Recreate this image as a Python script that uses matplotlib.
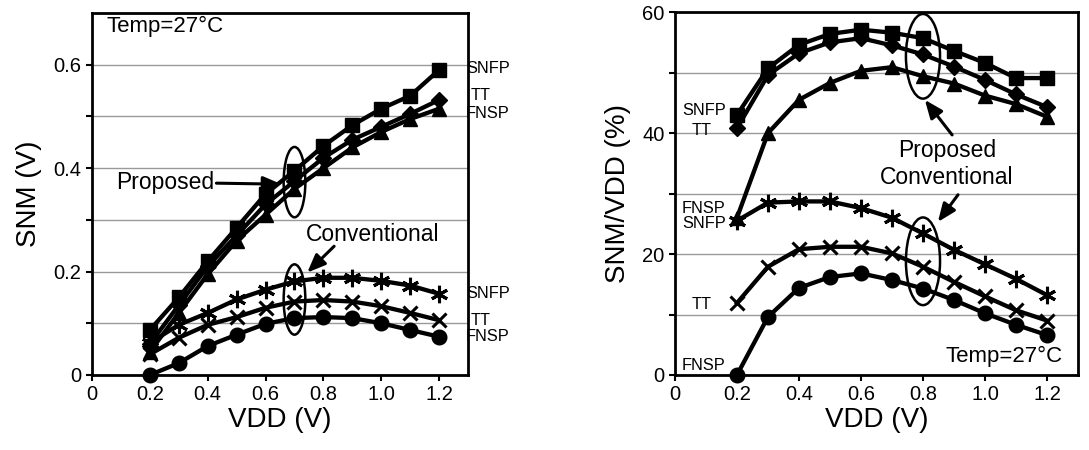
import matplotlib
matplotlib.use("Agg")
import matplotlib.pyplot as plt
from matplotlib.patches import Ellipse

plt.rcParams['font.family'] = ['Liberation Sans', 'DejaVu Sans']

vdd = [0.2, 0.3, 0.4, 0.5, 0.6, 0.7, 0.8, 0.9, 1.0, 1.1, 1.2]

# Left panel: SNM (V)
snm_prop_snfp = [0.087, 0.150, 0.220, 0.285, 0.350, 0.395, 0.443, 0.483, 0.515, 0.540, 0.590]
snm_prop_tt   = [0.060, 0.135, 0.210, 0.270, 0.330, 0.375, 0.420, 0.455, 0.480, 0.505, 0.532]
snm_prop_fnsp = [0.045, 0.120, 0.195, 0.260, 0.310, 0.360, 0.400, 0.440, 0.470, 0.495, 0.515]
snm_conv_snfp = [0.062, 0.097, 0.120, 0.146, 0.165, 0.181, 0.188, 0.188, 0.182, 0.173, 0.157]
snm_conv_tt   = [0.040, 0.072, 0.097, 0.112, 0.130, 0.142, 0.145, 0.142, 0.133, 0.120, 0.106]
snm_conv_fnsp = [0.000, 0.023, 0.056, 0.078, 0.099, 0.110, 0.112, 0.110, 0.100, 0.087, 0.074]

# Right panel: SNM/VDD (%)
pct_prop_snfp = [43.0, 50.7, 54.6, 56.4, 57.1, 56.6, 55.7, 53.6, 51.6, 49.1, 49.1]
pct_prop_tt   = [40.8, 49.6, 53.2, 55.0, 55.7, 54.5, 53.0, 51.0, 48.8, 46.4, 44.3]
pct_prop_fnsp = [26.0, 40.0, 45.5, 48.3, 50.3, 50.9, 49.4, 48.2, 46.2, 44.8, 42.7]
pct_conv_snfp = [25.5, 28.5, 28.7, 28.7, 27.6, 26.0, 23.4, 20.7, 18.3, 15.9, 13.2]
pct_conv_tt   = [11.9, 17.9, 20.8, 21.2, 21.2, 20.1, 17.9, 15.4, 13.0, 10.7, 9.0]
pct_conv_fnsp = [0.0, 9.6, 14.4, 16.2, 16.8, 15.7, 14.3, 12.4, 10.2, 8.3, 6.6]

x_ticks = [0, 0.2, 0.4, 0.6, 0.8, 1.0, 1.2]
x_ticklabels = ['0', '0.2', '0.4', '0.6', '0.8', '1.0', '1.2']
left_yticks = [0, 0.2, 0.4, 0.6]
left_yticklabels = ['0', '0.2', '0.4', '0.6']
right_yticks = [0, 20, 40, 60]
right_yticklabels = ['0', '20', '40', '60']

fig = plt.figure(figsize=(10.89, 4.5), dpi=100)
axL = fig.add_axes([0.0845, 0.1667, 0.3453, 0.8043])
axR = fig.add_axes([0.6198, 0.1667, 0.3701, 0.8063])

LW = 3.1
asterisk = (6, 2, 0)
ARROW = dict(arrowstyle='-|>,head_length=1.1,head_width=0.45', color='black', lw=2.2,
             shrinkA=0, shrinkB=0)

def style(ax, yticks, yticklabels, ylim, minor):
    ax.set_xlim(0, 1.3)
    ax.set_ylim(*ylim)
    ax.set_xticks(x_ticks)
    ax.set_xticklabels(x_ticklabels)
    ax.set_yticks(yticks)
    ax.set_yticklabels(yticklabels)
    ax.set_yticks(minor, minor=True)
    ax.yaxis.grid(True, which='both', color='#999999', lw=1.0)
    ax.set_axisbelow(True)
    for s in ax.spines.values():
        s.set_linewidth(2.0)
        s.set_color('black')
    ax.tick_params(axis='both', which='both', direction='out', length=4, width=1.5,
                   labelsize=14.5, colors='black')
    ax.tick_params(axis='y', which='minor', length=4)
    ax.set_xlabel('VDD (V)', fontsize=20, labelpad=2)

def series(ax, y, marker, ms, mew=1.0):
    ax.plot(vdd, y, color='black', lw=LW, marker=marker, ms=ms, mfc='black',
            mec='black', mew=mew, clip_on=False, zorder=3)

# Left
series(axL, snm_prop_fnsp, '^', 10.5)
series(axL, snm_prop_tt, 'D', 8.5)
series(axL, snm_prop_snfp, 's', 9.5)
series(axL, snm_conv_snfp, asterisk, 12.5, 2.2)
series(axL, snm_conv_tt, 'x', 10.5, 2.2)
series(axL, snm_conv_fnsp, 'o', 10.5)
style(axL, left_yticks, left_yticklabels, (0, 0.7), [0.1, 0.3, 0.5])
axL.set_ylabel('SNM (V)', fontsize=20, labelpad=8)

axL.text(0.051, 0.674, 'Temp=27°C', fontsize=16, va='center', ha='left')
axL.add_patch(Ellipse((0.7, 0.373), 0.075, 0.136, fill=False, lw=1.8, ec='black', zorder=4))
axL.add_patch(Ellipse((0.7, 0.146), 0.075, 0.136, fill=False, lw=1.8, ec='black', zorder=4))
axL.text(0.082, 0.373, 'Proposed', fontsize=16.5, va='center', ha='left')
axL.annotate('', xy=(0.655, 0.369), xytext=(0.43, 0.371), arrowprops=ARROW)
axL.text(0.971, 0.272, 'Conventional', fontsize=16.5, va='center', ha='center')
axL.annotate('', xy=(0.744, 0.198), xytext=(0.837, 0.249), arrowprops=ARROW)

for txt, x, y in [('SNFP', 1.293, 0.592), ('TT', 1.345, 0.54), ('FNSP', 1.293, 0.505),
                  ('SNFP', 1.293, 0.157), ('TT', 1.345, 0.105), ('FNSP', 1.293, 0.074)]:
    axL.text(x, y, txt, fontsize=11.8, va='center', ha='center' if txt == 'TT' else 'left',
             clip_on=False)

# Right
series(axR, pct_prop_fnsp, '^', 10.5)
series(axR, pct_prop_tt, 'D', 8.5)
series(axR, pct_prop_snfp, 's', 9.5)
series(axR, pct_conv_snfp, asterisk, 12.5, 2.2)
series(axR, pct_conv_tt, 'x', 10.5, 2.2)
series(axR, pct_conv_fnsp, 'o', 10.5)
style(axR, right_yticks, right_yticklabels, (0, 60), [10, 30, 50])
axR.set_ylabel('SNM/VDD (%)', fontsize=20, labelpad=8)

axR.add_patch(Ellipse((0.8, 52.7), 0.11, 14.0, fill=False, lw=1.8, ec='black', zorder=4))
axR.add_patch(Ellipse((0.8, 18.8), 0.11, 14.5, fill=False, lw=1.8, ec='black', zorder=4))
axR.text(0.877, 37.2, 'Proposed', fontsize=16.5, va='center', ha='center')
axR.text(0.877, 32.7, 'Conventional', fontsize=16.5, va='center', ha='center')
axR.annotate('', xy=(0.806, 45.5), xytext=(0.894, 39.7), arrowprops=ARROW)
axR.annotate('', xy=(0.848, 25.3), xytext=(0.913, 29.8), arrowprops=ARROW)
axR.text(1.252, 3.0, 'Temp=27°C', fontsize=16, va='center', ha='right')

for txt, x, y in [('SNFP', 0.023, 43.8), ('TT', 0.087, 40.5), ('FNSP', 0.023, 27.6),
                  ('SNFP', 0.023, 25.1), ('TT', 0.087, 11.6), ('FNSP', 0.023, 1.6)]:
    axR.text(x, y, txt, fontsize=11.8, va='center', ha='center' if txt == 'TT' else 'left')

fig.savefig('out.png', dpi=100)
